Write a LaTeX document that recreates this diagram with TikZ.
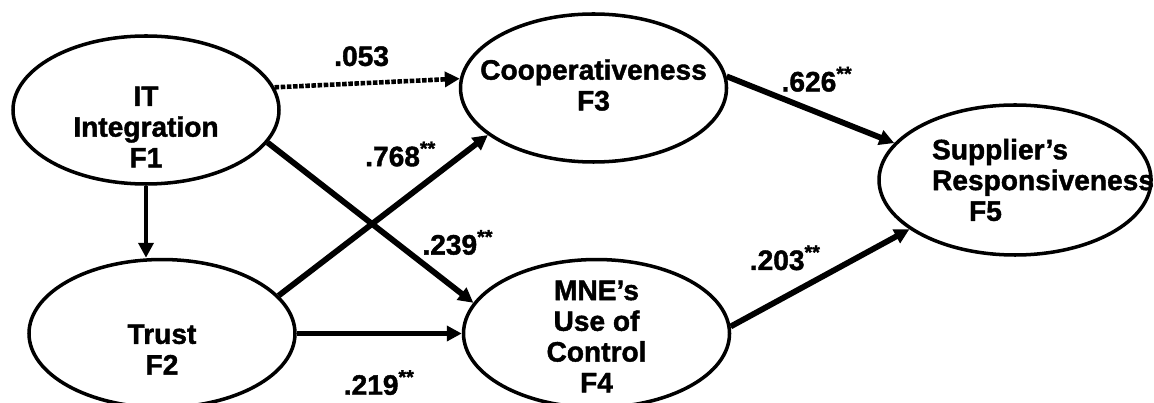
\documentclass[tikz,border=0pt]{standalone}
\usepackage{fontspec}
\setmainfont{Liberation Sans}[BoldFeatures={FakeBold=1.5}]
\usetikzlibrary{arrows.meta, positioning, shapes.geometric}

\begin{document}
\begin{tikzpicture}[
      factornode/.style={ellipse, draw=black, line width=2pt, minimum width=5.32cm, minimum height=2.96cm, inner sep=0pt},
      factortext/.style={align=center, inner sep=0pt, font=\bfseries\fontsize{16}{17.5}\selectfont},
      coefflabel/.style={inner sep=1pt, font=\bfseries\fontsize{16}{17.5}\selectfont},
      thickarrow/.style={-{Triangle[length=8.5pt,width=8.5pt]}, line width=3.3pt},
      dottedarrow/.style={-{Triangle[length=8.5pt,width=8.5pt]}, line width=2.6pt, dash pattern=on 2.6pt off 0.9pt},
      ]
      \useasboundingbox (0,0) rectangle (23.08,-8.06);

      %Nodes
      \node[factornode] (itintegration) at (2.92,-2.20)
        [label={[factortext, name=itintegrationtext, yshift=-0.34cm]center:IT\\Integration\\F1}] {};
      \node[factornode] (trust) [below=1.44cm of itintegration, xshift=0.32cm,
        label={[factortext, name=trusttext, yshift=-0.32cm]center:Trust\\F2}] {};
      \node[factornode] (cooperativeness) [right=3.56cm of itintegration, yshift=0.44cm,
        label={[factortext, name=cooperativenesstext, yshift=0.06cm]center:Cooperativeness\\F3}] {};
      \node[factornode] (mneuse) [right=3.30cm of trust,
        label={[factortext, name=mneusetext, yshift=-0.06cm]center:MNE’s\\Use of\\Control\\F4}] {};
      \node[factornode, minimum width=5.44cm, minimum height=3.0cm] (supplierresp) [right=2.98cm of cooperativeness, yshift=-1.84cm,
        label={[factortext, align=left, name=supplierresptext, xshift=0.56cm]center:Supplier’s\\Responsiveness\\\hspace*{0.74cm}F5}] {};

      %Lines
      \draw[thickarrow, line width=2.6pt] (itintegration.south) -- (itintegration.south |- trust.north);
      \draw[dottedarrow] (itintegration.10) -- (cooperativeness.176)
      node [coefflabel, pos=0.47, above=0.26cm] (coef053) {.053};
      \draw[thickarrow] (itintegration.-15) -- (mneuse.166)
      node [coefflabel, pos=0.73, above right=0pt] (coef239) {.239\textsuperscript{**}};
      \draw[thickarrow] (trust.18) -- (cooperativeness.-156)
      node [coefflabel, pos=0.775, above left=0pt] (coef768) {.768\textsuperscript{**}};
      \draw[thickarrow] (trust.east) -- (mneuse.west)
      node [coefflabel, pos=0.5, below=0.64cm] (coef219) {.219\textsuperscript{**}};
      \draw[thickarrow] (cooperativeness.5) -- (supplierresp.163)
      node [coefflabel, pos=0.3, above right=0pt] (coef626) {.626\textsuperscript{**}};
      \draw[thickarrow] (mneuse.3) -- (supplierresp.-155)
      node [coefflabel, pos=0.53, above left=0pt] (coef203) {.203\textsuperscript{**}};
\end{tikzpicture}
\end{document}
